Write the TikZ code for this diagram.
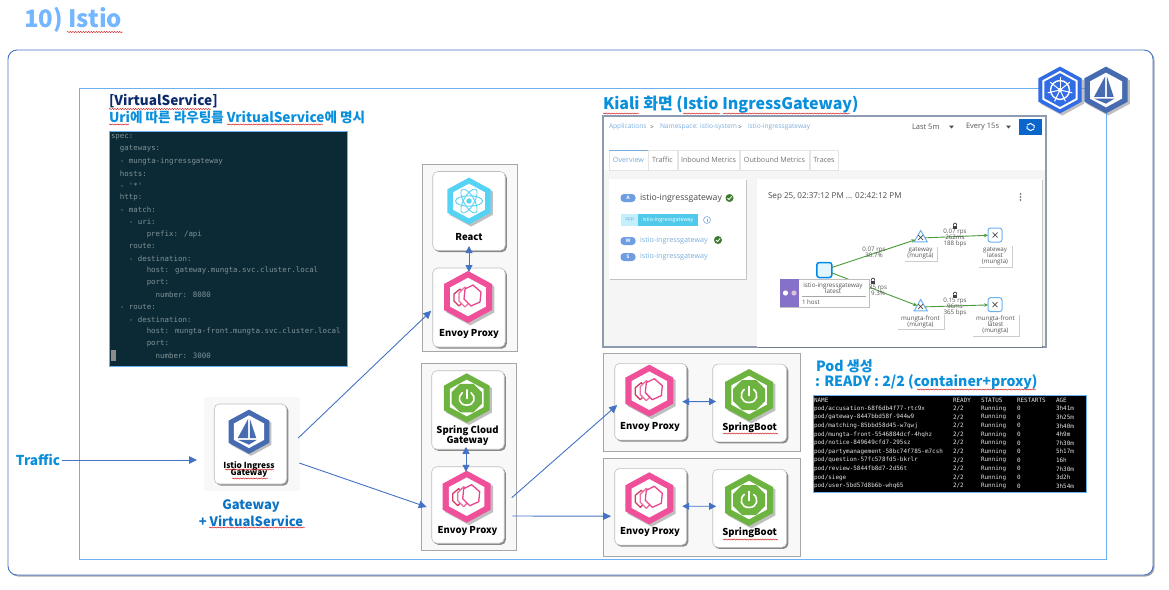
\documentclass[tikz,border=0pt]{standalone}
\usepackage{fontspec}
\setmainfont{Noto Sans CJK KR}
\newfontfamily\hv{Noto Sans CJK KR Black}
\newfontfamily\mono{DejaVu Sans Mono}
\newfontfamily\ui{Open Sans}
\usetikzlibrary{shadows,calc,arrows.meta,decorations.pathmorphing,shapes.geometric}
\definecolor{blueB}{HTML}{4472C4}
\definecolor{skyB}{HTML}{6DB0F0}
\definecolor{head}{HTML}{0A8FDC}
\definecolor{head2}{HTML}{0C72C4}
\definecolor{titlec}{HTML}{74B6FF}
\definecolor{navy}{HTML}{0B2A6B}
\definecolor{groupbg}{HTML}{F8F8F8}
\definecolor{groupln}{HTML}{A6A6A6}
\definecolor{envoyc}{HTML}{F0509A}
\definecolor{springc}{HTML}{6DB33F}
\definecolor{reactc}{HTML}{55D3F5}
\definecolor{istioc}{HTML}{466BB0}
\definecolor{k8sc}{HTML}{326CE5}
\definecolor{codebg}{HTML}{0C2A36}
\definecolor{codetx}{HTML}{7F9396}
\definecolor{link}{HTML}{7AAEDF}
\definecolor{edgeg}{HTML}{4C9A3C}
\definecolor{uitx}{HTML}{555555}
\definecolor{kframe}{HTML}{8E9AAF}
\definecolor{kbtn}{HTML}{0B66CC}
\definecolor{purp}{HTML}{8572C8}
\newcommand\fs[1]{\fontsize{#1}{#1}\selectfont}
\tikzset{
  x=1pt,y=-1pt,
  txt/.style={inner sep=0,outer sep=0},
  headtx/.style={txt,text=head,font=\hv\fs{13.6}},
  lab/.style={txt,text=black,font=\fs{9.5}\bfseries,align=center},
  card/.style={draw=black!25,fill=white,rounded corners=5pt,line width=.6pt,inner sep=0,outer sep=0,
    drop shadow={shadow xshift=1.6pt,shadow yshift=-1.6pt,fill=black,opacity=.45}},
  group/.style={draw=groupln,fill=groupbg,line width=.8pt,inner sep=0,outer sep=0},
  conn/.style={draw=blueB,line width=.9pt,-{Triangle[length=8pt,width=7.5pt]}},
  dconn/.style={draw=blueB,line width=.9pt,{Triangle[length=7pt,width=7pt]}-{Triangle[length=7pt,width=7pt]}},
  squig/.style={draw=red!80!black,line width=.4pt,decorate,decoration={snake,amplitude=.55pt,segment length=2.6pt}},
  code/.style={txt,anchor=west,text=codetx,font=\mono\fs{7.43}},
  podt/.style={txt,anchor=west,text=black!10,font=\mono\fs{5.95}},
  ui8/.style={txt,font=\ui\fs{7.5},text=uitx},
  uiL/.style={txt,font=\ui\fs{7.2},text=link},
  crumb/.style={txt,font=\ui\fs{6.6},text=link},
  gl/.style={txt,font=\ui\fs{6.2},text=uitx,align=center},
  tag/.style={draw=none,fill=white,inner sep=0,outer sep=0,drop shadow={shadow xshift=.5pt,shadow yshift=-.5pt,fill=black,opacity=.2}},
  gedge/.style={draw=edgeg,line width=.9pt,-{Stealth[length=4pt,width=3.5pt]}},
  badge/.style={fill=link!90!blue,rounded corners=3.5pt,inner sep=0,outer sep=0,minimum width=15,minimum height=8,text=white,font=\ui\bfseries\fs{5}},
  sqnode/.style={draw=skyB,fill=white,line width=1pt,rounded corners=2.5pt,minimum width=14,minimum height=14,inner sep=0,outer sep=0},
  trinode/.style={regular polygon,regular polygon sides=3,draw=skyB,fill=white,line width=1pt,minimum width=15,inner sep=0,outer sep=0},
}
\newcommand\hexp[1]{(0,-26*#1) -- (24*#1,-13*#1) -- (24*#1,13*#1) -- (0,26*#1) -- (-24*#1,13*#1) -- (-24*#1,-13*#1) -- cycle}
\newcommand\hexbase[1]{%
  \fill[black!45,opacity=.55] [shift={(2.4,2.4)}] \hexp{1};
  \fill[#1] \hexp{1};
  \fill[white] \hexp{.74};}
\newcommand\envoyhex[3]{\begin{scope}[shift={(#1,#2)},scale=#3]
  \hexbase{envoyc}
  \begin{scope}[line width=1.3pt,line join=round]
  \draw[draw=purple!70!pink,fill=white] (-8,-8) -- (-14,-3) -- (-14,4) -- (-9,9) -- (-4,4) -- (-4,-4) -- cycle;
  \draw[draw=magenta!60!purple!60,fill=white] (-3,-10) -- (-9,-4) -- (-9,4) -- (-3,10) -- (3,4) -- (3,-4) -- cycle;
  \draw[draw=envoyc!85!purple,fill=white] (5,-12) -- (-3,-8) -- (-4,2) -- (3,9) -- (12,5) -- (13,-5) -- cycle;
  \end{scope}
\end{scope}}
\newcommand\springhex[3]{\begin{scope}[shift={(#1,#2)},scale=#3]
  \hexbase{springc}
  \fill[springc] (-7,-15) -- (7,-15) -- (16,-6) -- (16,6) -- (7,15) -- (-7,15) -- (-16,6) -- (-16,-6) -- cycle;
  \draw[white,line width=1.6pt,line cap=round] (-4.6,-5.6) .. controls (-10,-1.5) and (-8.5,7.5) .. (0,7.5) .. controls (8.5,7.5) and (10,-1.5) .. (4.6,-5.6);
  \draw[white,line width=1.6pt,line cap=round] (0,-8.5) -- (0,0.5);
\end{scope}}
\newcommand\reacthex[3]{\begin{scope}[shift={(#1,#2)},scale=#3]
  \hexbase{reactc}
  \fill[reactc] (0,0) circle[radius=3];
  \foreach \a in {0,60,120}{\draw[reactc,line width=.9pt,rotate=\a] (0,0) ellipse[x radius=15,y radius=5.8];}
\end{scope}}
\newcommand\sail{%
  \fill[istioc] (-1,-16) -- (-1,8) -- (-14,8) -- cycle;
  \fill[istioc] (1,-16) -- (1,8) -- (9,8) -- cycle;
  \fill[istioc] (-14,10) -- (10,10) -- (0,16) -- cycle;}
\newcommand\istiohex[3]{\begin{scope}[shift={(#1,#2)},scale=#3]
  \hexbase{istioc}
  \begin{scope}[scale=.95]\sail\end{scope}
\end{scope}}
\newcommand\ktshex[3]{\begin{scope}[shift={(#1,#2)},scale=#3]
  \fill[black!45,opacity=.55] [shift={(2.4,2.4)}] \hexp{1};
  \fill[k8sc] \hexp{1};
  \fill[white] \hexp{.82};
  \fill[k8sc] \hexp{.72};
  \draw[white,line width=1.4pt] (0,0) circle[radius=10.5];
  \fill[white] (0,0) circle[radius=2.5];
  \foreach \a in {0,51.4,102.9,154.3,205.7,257.1,308.6}{\draw[white,line width=1pt,rotate=\a] (0,0) -- (0,-14);}
\end{scope}}
\newcommand\chk[2]{\fill[edgeg!80!black] (#1,#2) circle[radius=4];
  \draw[white,line width=.8pt] (#1-2,#2) -- (#1-.5,#2+1.6) -- (#1+2.2,#2-1.6);}
\newcommand\lock[2]{\fill[black!75] (#1-2.4,#2-.5) rectangle (#1+2.4,#2+3);
  \draw[black!75,line width=.7pt] (#1-1.5,#2-.5) -- (#1-1.5,#2-2) -- (#1,#2-3) -- (#1+1.5,#2-2) -- (#1+1.5,#2-.5);}
\newcommand\xglyph[2]{\draw[black!70,line width=.7pt] (#1-2.5,#2-2.5) -- (#1+2.5,#2+2.5) (#1-2.5,#2+2.5) -- (#1+2.5,#2-2.5);}
\newcommand\cl[3]{\node[code] (code#1) at (111+4.47*#2,137+12.15*#1) {#3};}
\newcommand\pr[3]{\node[podt] (podn#1) at (814,400+8.6*#1) {#2};
  \node[podt] (podr#1) at (953,400+8.6*#1) {2/2};
  \node[podt] (pods#1) at (981,400+8.6*#1) {Running};
  \node[podt] (podc#1) at (1017,400+8.6*#1) {0};
  \node[podt] (poda#1) at (1056,400+8.6*#1) {#3};}
\begin{document}
\begin{tikzpicture}
\useasboundingbox (0,0) rectangle (1169,589);
\fill[white] (0,0) rectangle (1169,589);
\node[txt,anchor=west,text=titlec,font=\hv\fs{24}] (title) at (24,20) {10) Istio};
\draw[squig] (67,32) -- (123,32);
\node[draw=blueB,fill=white,line width=.9pt,rounded corners=9pt,minimum width=1145,minimum height=525,inner sep=0,outer sep=0,
  drop shadow={shadow xshift=1.5pt,shadow yshift=-1.5pt,fill=black,opacity=.35}] (outer) at (580.5,312.5) {};
\node[draw=skyB,fill=white,line width=.9pt,minimum width=1027,minimum height=471,inner sep=0,outer sep=0] (inner) at (593,323.5) {};
\ktshex{1060}{90}{.9}
\istiohex{1106}{90}{.9}
\node[txt,anchor=west,text=navy,font=\hv\fs{13.6}] (vs1) at (109,101) {[VirtualService]};
\node[headtx,anchor=west] (vs2) at (109,117) {Uri에 따른 라우팅를 VritualService에 명시};
\draw[squig] (109,109) -- (211,109);
\draw[squig] (109,124.5) -- (129,124.5);
\draw[squig] (227,124.5) -- (323,124.5);
\node[draw=skyB,fill=codebg,line width=.9pt,minimum width=238,minimum height=235,inner sep=0,outer sep=0] (codebox) at (228,248.5) {};
\cl{0}{0}{spec:}
\cl{1}{2}{gateways:}
\cl{2}{2}{- mungta-ingressgateway}
\cl{3}{2}{hosts:}
\cl{4}{2}{- '*'}
\cl{5}{2}{http:}
\cl{6}{2}{- match:}
\cl{7}{4}{- uri:}
\cl{8}{8}{prefix: /api}
\cl{9}{4}{route:}
\cl{10}{4}{- destination:}
\cl{11}{8}{host: gateway.mungta.svc.cluster.local}
\cl{12}{8}{port:}
\cl{13}{10}{number: 8080}
\cl{14}{2}{- route:}
\cl{15}{4}{- destination:}
\cl{16}{8}{host: mungta-front.mungta.svc.cluster.local}
\cl{17}{8}{port:}
\cl{18}{10}{number: 3000}
\fill[black!45!white] (111,350) rectangle (115.5,361);
\node[txt,anchor=west,text=head,font=\hv\fs{16}] (kt) at (603,105) {Kiali 화면 (Istio IngressGateway)};
\draw[squig] (603,113.5) -- (639,113.5);
\draw[squig] (683,113.5) -- (720,113.5);
\draw[squig] (723,113.5) -- (850,113.5);
\node[draw=kframe,fill=white,line width=1.3pt,minimum width=443,minimum height=231,inner sep=0,outer sep=0] (kiali) at (824.5,231.5) {};
\fill[black!4] (604,170) rectangle (1045.3,346.3);
\node[crumb,anchor=west] (b1) at (609,127) {Applications};
\node[ui8,anchor=center,font=\ui\fs{6.6}] (bs1) at (652,127) {>};
\node[crumb,anchor=west] (b2) at (660,127) {Namespace: istio-system};
\node[ui8,anchor=center,font=\ui\fs{6.6}] (bs2) at (740,127) {>};
\node[crumb,anchor=west] (b3) at (748,127) {istio-ingressgateway};
\node[ui8,anchor=west] (d1) at (912,127) {Last 5m};
\fill[black!70] (949,125.5) -- (954,125.5) -- (951.5,128.5) -- cycle;
\node[ui8,anchor=west] (d2) at (966,127) {Every 15s};
\fill[black!70] (1006,125.5) -- (1011,125.5) -- (1008.5,128.5) -- cycle;
\node[fill=kbtn,minimum width=23,minimum height=16,inner sep=0,outer sep=0] (refresh) at (1030.5,127) {};
\draw[white,line width=1pt] (1027,125) -- (1030.5,123.5) -- (1034,125.5) -- (1034,128) (1034,129) -- (1030.5,130.5) -- (1027,128.5) -- (1027,126);
\draw[black!10,fill=white,line width=.6pt] (609,150.5) rectangle (648,170);
\node[uiL] (t1) at (628.5,160) {Overview};
\draw[link,line width=.9pt] (609,150.5) -- (648,150.5);
\foreach \n/\a/\b/\t in {t2/648/677/Traffic,t3/678/739/Inbound Metrics,t4/740/809/Outbound Metrics,t5/810/838/Traces}{
  \draw[black!10,fill=white,line width=.6pt] (\a,150.5) rectangle (\b,170);
  \node[ui8,font=\ui\fs{7.2},text=black!55] (\n) at ({(\a+\b)/2},160) {\t};
}
\node[tag,minimum width=137,minimum height=100] (lcard) at (677.5,229) {};
\node[badge] (ba) at (628,198) {A};
\node[txt,anchor=west,font=\ui\fs{8.7},text=black!70] (an) at (640,198) {istio-ingressgateway};
\chk{729.5}{198}
\node[fill=reactc!35!white,minimum width=17,minimum height=12,inner sep=0,outer sep=0,font=\ui\fs{5},text=link] (appt) at (629.5,220) {app};
\node[fill=link!65!cyan,minimum width=60,minimum height=12,inner sep=0,outer sep=0,font=\ui\fs{5.4},text=white] (appv) at (668,220) {istio-ingressgateway};
\draw[link,line width=.6pt] (707,220) circle[radius=3.5];
\draw[link,line width=.6pt] (707,219) -- (707,222);
\node[badge] (bw) at (628,241) {W};
\node[uiL,anchor=west] (wn) at (640,241) {istio-ingressgateway};
\chk{718}{240}
\node[badge] (bs) at (628,257) {S};
\node[uiL,anchor=west] (sn) at (640,257) {istio-ingressgateway};
\node[tag,minimum width=285,minimum height=168] (rcard) at (899.5,263) {};
\node[txt,anchor=west,font=\ui\fs{8.1},text=black!70] (ts) at (768,197) {Sep 25, 02:37:12 PM ... 02:42:12 PM};
\foreach \yy in {194,197,200}{\fill[black!65] (1020.5,\yy) circle[radius=.8];}
\node[sqnode,draw=blue!40!cyan!90!black,line width=1.5pt,fill=cyan!12!white,minimum width=15,minimum height=15] (app) at (824.3,270) {};
\node[trinode] (gwt) at (920.7,238) {};
\node[sqnode] (gwl) at (995,235) {};
\node[trinode] (mft) at (920.7,307) {};
\node[sqnode] (mfl) at (995,304.7) {};
\draw[gedge] (app) -- (gwt);
\draw[gedge] (app) -- (mft);
\draw[gedge] (gwt) -- (gwl);
\draw[gedge] (mft) -- (mfl);
\xglyph{920.7}{237.5}\xglyph{995}{235}\xglyph{920.7}{306.5}\xglyph{995}{304.7}
\node[tag,draw=black!25,line width=.5pt,minimum width=89,minimum height=28] (pb) at (824.5,293) {};
\fill[purp] (780,279) rectangle (799,307);
\fill[white] (785.5,293) circle[radius=2.6];
\fill[white!75!violet] (794,293) circle[radius=2.6];
\node[gl,font=\ui\fs{6.3}] (pn) at (833,288) {istio-ingressgateway\\[-.5pt]latest};
\draw[black!35,line width=.5pt] (802,296) -- (866,296);
\node[gl,anchor=west] (ph) at (802,302) {1 host};
\node[gl] (e1) at (874,252) {0.07 rps\\30.7\%};
\node[gl] (e2) at (878,290) {35 rps\\9.3\%};
\node[gl] (e3) at (955,238) {0.07 rps\\262ms\\188 bps};
\node[gl] (e4) at (955,307) {0.15 rps\\96ms\\365 bps};
\lock{873}{281}\lock{955}{226}\lock{955}{295}
\node[tag,minimum width=33,minimum height=15,gl] (l1) at (920.5,253.5) {gateway\\(mungta)};
\node[tag,minimum width=34,minimum height=22,gl] (l2) at (995,256) {gateway\\latest\\(mungta)};
\node[tag,minimum width=47,minimum height=15,gl] (l3) at (920.5,321.5) {mungta-front\\(mungta)};
\node[tag,minimum width=47,minimum height=22,gl] (l4) at (995.5,325) {mungta-front\\latest\\(mungta)};
\node[headtx,anchor=west,font=\hv\fs{14.1}] (p1) at (816,366) {Pod 생성};
\node[headtx,anchor=west,font=\hv\fs{14.1}] (p2) at (815,382) {: READY : 2/2 (container+proxy)};
\draw[squig] (917,389.5) -- (1036,389.5);
\node[draw=skyB,fill=black,line width=.9pt,minimum width=273,minimum height=97,inner sep=0,outer sep=0] (podbox) at (949.5,443.5) {};
\node[podt] (hn) at (814,400) {NAME};
\node[podt] (hr) at (953,400) {READY};
\node[podt] (hs) at (981,400) {STATUS};
\node[podt] (hc) at (1017,400) {RESTARTS};
\node[podt] (ha) at (1056,400) {AGE};
\pr{1}{pod/accusation-68f6db4f77-rtc9x}{3h41m}
\pr{2}{pod/gateway-8447bbd58f-944w9}{3h25m}
\pr{3}{pod/matching-85bbd58d45-w7qwj}{3h40m}
\pr{4}{pod/mungta-front-5546884dcf-4hqhz}{4h9m}
\pr{5}{pod/notice-849649cfd7-295sz}{7h30m}
\pr{6}{pod/partymanagement-58bc74f785-m7csh}{5h17m}
\pr{7}{pod/question-57fc578fd5-bkrlr}{16h}
\pr{8}{pod/review-5844fb8d7-2d56t}{7h30m}
\pr{9}{pod/siege}{3d2h}
\pr{10}{pod/user-5bd57d8b6b-whq65}{3h54m}
\node[txt,anchor=west,text=head,font=\hv\fs{13.6}] (traffic) at (16,460) {Traffic};
\node[fill=groupbg,minimum width=96,minimum height=93.5,inner sep=0,outer sep=0] (gwgroup) at (252,444) {};
\node[card,minimum width=72.5,minimum height=80] (gwcard) at (250.5,444) {};
\istiohex{249}{431.7}{.85}
\node[lab,font=\fs{8.3}\bfseries] (gwlab) at (249,469.5) {Istio Ingress\\[-.5pt]Gateway};
\draw[squig] (225,469.5) -- (274,469.5);
\draw[squig] (232,478.5) -- (268,478.5);
\node[txt,text=head2,font=\hv\fs{13}] (gwt1) at (251,506) {Gateway};
\node[txt,text=head2,font=\hv\fs{13}] (gwt2) at (251,521.5) {+ VirtualService};
\draw[squig] (209,527.5) -- (305,527.5);
\node[group,minimum width=95,minimum height=187] (groupA) at (469.5,257.5) {};
\node[card,minimum width=72.5,minimum height=79] (reactcard) at (469,211) {};
\reacthex{469}{201}{.9}
\node[lab] (reactlab) at (469,237.5) {React};
\node[card,minimum width=72.5,minimum height=79] (envoyA) at (469,307.5) {};
\envoyhex{468}{297}{1}
\node[lab] (envoyAlab) at (469,333.5) {Envoy Proxy};
\draw[dconn] ([yshift=4.5pt]reactcard.south) -- ([yshift=-4pt]envoyA.north);
\node[group,minimum width=95,minimum height=187] (groupB) at (469,456.5) {};
\node[card,minimum width=72.5,minimum height=78.5] (springgw) at (468,410) {};
\springhex{466.7}{398}{.95}
\node[lab] (springlab) at (467.5,435.5) {Spring Cloud\\[1.2pt]Gateway};
\node[card,minimum width=72.5,minimum height=76.5] (envoyB) at (468,505) {};
\envoyhex{466.7}{496.7}{1}
\node[lab] (envoyBlab) at (467.5,530.7) {Envoy Proxy};
\draw[dconn] ([yshift=2.5pt,xshift=-2pt]springgw.south) -- ([yshift=-5pt,xshift=-2pt]envoyB.north);
\node[group,minimum width=197,minimum height=98] (groupC) at (702,402.5) {};
\node[card,minimum width=72,minimum height=76.7] (envoyC) at (650.7,401.7) {};
\envoyhex{649.3}{390.7}{1}
\node[lab] (envoyClab) at (650,426.7) {Envoy Proxy};
\node[card,minimum width=74,minimum height=77.7] (bootC) at (749.7,403) {};
\springhex{749}{395}{1}
\node[lab] (bootClab) at (749.5,427.7) {SpringBoot};
\draw[squig] (723,433.5) -- (778,433.5);
\draw[dconn] ([xshift=-4.5pt]envoyC.east) -- ([xshift=3.5pt,yshift=1.5pt]bootC.west);
\node[group,minimum width=197,minimum height=98] (groupD) at (702,507.3) {};
\node[card,minimum width=72,minimum height=76.7] (envoyD) at (650.7,506.7) {};
\envoyhex{649.3}{498.3}{1}
\node[lab] (envoyDlab) at (650,531.7) {Envoy Proxy};
\node[card,minimum width=74,minimum height=78] (bootD) at (749.7,508.3) {};
\springhex{749}{500}{1}
\node[lab] (bootDlab) at (749.5,532.7) {SpringBoot};
\draw[squig] (723,539.5) -- (778,539.5);
\draw[dconn] ([xshift=-4.5pt,yshift=.5pt]envoyD.east) -- ([xshift=3.5pt,yshift=2pt]bootD.west);
\draw[conn] ([xshift=1.5pt]traffic.east) -- ([yshift=-16pt,xshift=-7pt]gwgroup.west);
\draw[conn] ([xshift=11.5pt,yshift=6pt]gwcard.east) -- ([xshift=-1.5pt,yshift=-3.2pt]envoyA.west);
\draw[conn] ([xshift=12.5pt,yshift=-19pt]gwcard.east) -- ([xshift=-5pt,yshift=-2pt]envoyB.west);
\draw[conn] ([xshift=7.5pt,yshift=7.3pt]envoyB.east) -- ([xshift=2.5pt,yshift=-3.3pt]envoyC.west);
\draw[conn] ([xshift=8pt,yshift=-11pt]envoyB.east) -- ([xshift=-3.7pt,yshift=-9.5pt]envoyD.west);
\end{tikzpicture}
\end{document}
